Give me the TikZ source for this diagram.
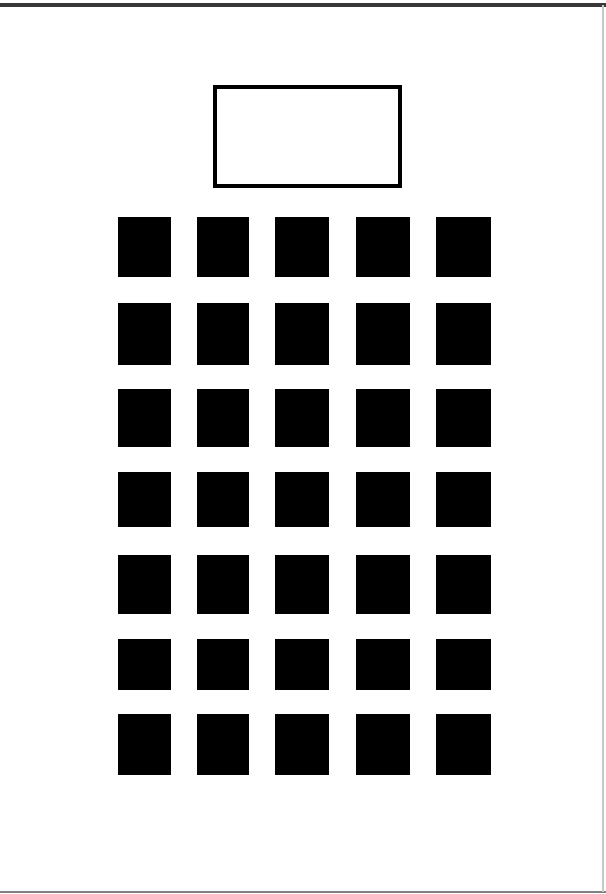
\documentclass[tikz,border=0pt]{standalone}
\usepackage{tikz}
\definecolor{frameedge}{RGB}{55,55,55}
\definecolor{paleedge}{RGB}{200,200,200}

\begin{document}
\begin{tikzpicture}[x=0.02cm,y=-0.02cm]
  \useasboundingbox (0,0) rectangle (606,894);
  % Page edges
  \draw[frameedge,line width=4*0.02cm](0,5)--(606,5);
  \draw[gray,line width=2*0.02cm](0,892)--(606,892);
  \draw[paleedge,line width=1.2*0.02cm](603,5)--(603,892);
  % Front table
  \draw[black,line width=3.2*0.02cm](215,87) rectangle (400,186);
  % Seats, row by row
  \foreach \top/\bot in {217/277, 303/365, 389/447, 472/527, 555/614, 639/690, 714/775}{
    \foreach \lft/\rgt in {118/171, 197/249, 275/329, 356/410, 436/491}{
      \fill[black](\lft,\top) rectangle (\rgt,\bot);
    }
  }
\end{tikzpicture}
\end{document}
